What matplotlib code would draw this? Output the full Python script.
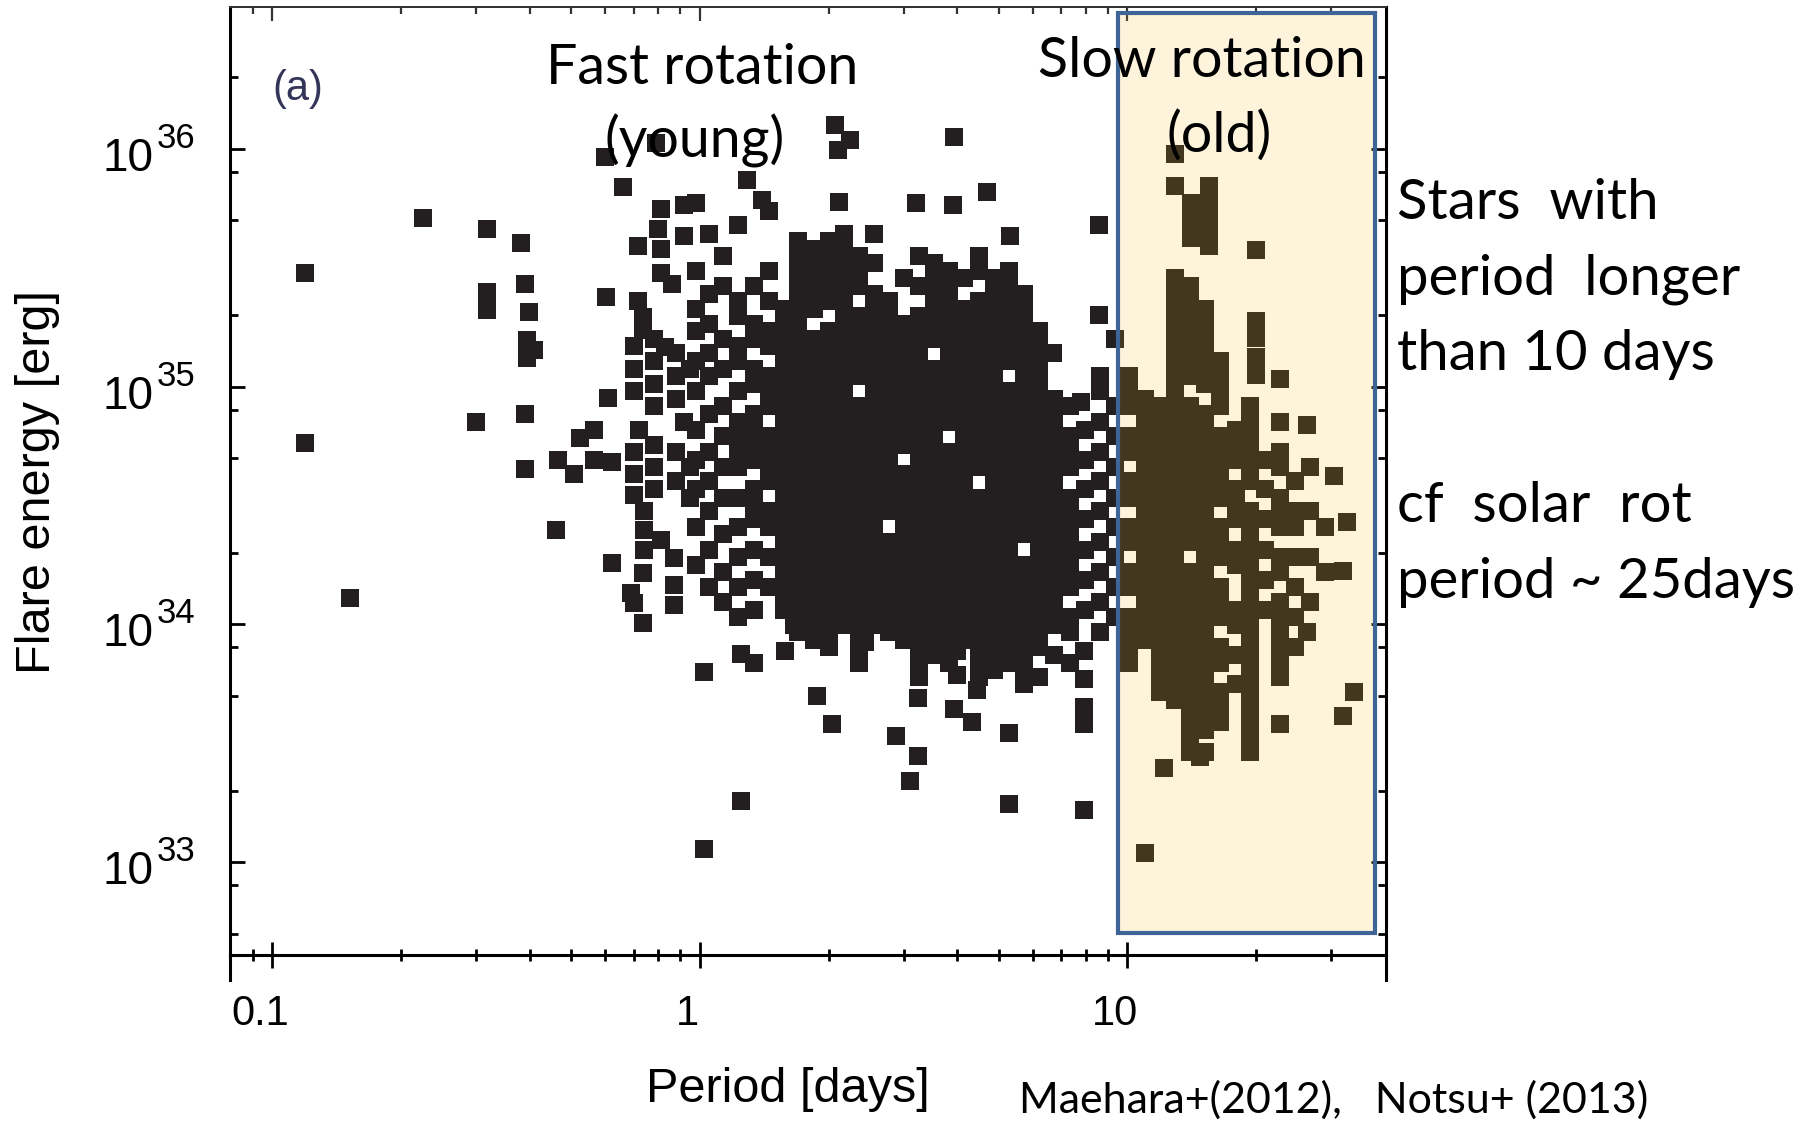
import numpy as np
import matplotlib
matplotlib.use("Agg")
import matplotlib.pyplot as plt
import matplotlib.transforms as mtransforms
from matplotlib.patches import Rectangle
from matplotlib.lines import Line2D
from matplotlib.ticker import NullFormatter

plt.rcParams['font.family'] = ['Liberation Sans', 'DejaVu Sans']

# ---------------- data: (period [days], flare energy [erg]) ----------------
stars_short = [
    (0.119, 3.0e35), (0.119, 5.8e34), (0.152, 1.29e34), (0.225, 5.1e35),
    (0.318, 4.6e35), (0.381, 4.0e35), (0.318, 2.5e35), (0.318, 2.1e35),
    (0.389, 2.7e35), (0.398, 2.06e35), (0.394, 1.57e35), (0.41, 1.43e35),
    (0.394, 1.32e35), (0.603, 2.38e35), (0.66, 6.9e35), (0.60, 9.2e35),
    (0.79, 1.06e36), (0.81, 5.6e35), (0.92, 5.8e35), (0.80, 4.6e35),
    (0.92, 4.3e35), (0.716, 3.9e35), (0.81, 3.8e35), (0.81, 3.0e35),
    (0.86, 2.7e35), (0.716, 2.3e35), (0.736, 1.96e35), (0.736, 1.73e35),
    (0.83, 1.47e35), (0.61, 9.0e34), (0.39, 7.7e34), (0.30, 7.1e34),
    (0.39, 4.5e34), (0.465, 4.9e34), (0.507, 4.3e34), (0.565, 6.6e34),
    (0.524, 6.1e34), (0.565, 4.9e34), (0.623, 4.8e34), (0.46, 2.5e34),
    (0.623, 1.82e34), (0.74, 3.0e34), (0.74, 2.5e34), (0.74, 2.06e34),
    (0.81, 2.26e34), (0.87, 1.9e34), (0.736, 1.64e34), (0.69, 1.36e34),
    (0.70, 1.23e34), (0.736, 1.01e34), (0.87, 1.47e34), (0.87, 1.21e34),
    (0.70, 1.48e35), (0.70, 1.19e35), (0.70, 9.6e34), (0.78, 1.59e35),
    (0.78, 1.28e35), (0.78, 1.03e35), (0.78, 8.3e34), (0.88, 1.38e35),
    (0.88, 1.11e35), (0.88, 8.9e34), (0.95, 1.19e35), (0.70, 5.3e34),
    (0.70, 4.3e34), (0.70, 3.5e34), (0.78, 5.7e34), (0.78, 4.6e34),
    (0.78, 3.7e34), (0.88, 5.3e34), (0.88, 4.0e34), (0.95, 4.6e34),
    (0.95, 3.4e34), (0.92, 7.1e34), (0.72, 6.6e34),
    (0.98, 5.9e35), (0.98, 3.07e35), (0.98, 2.13e35), (0.98, 1.71e35),
    (0.98, 1.28e35), (0.98, 9.6e34), (0.98, 6.6e34), (0.98, 4.9e34),
    (0.98, 3.7e34), (0.98, 2.57e34), (0.98, 1.78e34),
]

stars_mid = [
    (1.02, 6.3e33), (1.02, 1.14e33), (1.25, 7.5e33), (1.34, 6.9e33),
    (1.25, 1.8e33), (1.58, 7.7e33), (1.66, 9.9e33), (1.88, 5.0e33),
    (2.04, 3.8e33), (2.43, 8.4e33), (2.88, 3.4e33), (3.1, 2.2e33),
    (3.23, 4.9e33), (3.23, 2.8e33), (3.92, 4.4e33), (4.34, 3.9e33),
    (4.44, 5.3e33), (4.0, 7.7e33), (4.0, 6.1e33), (5.29, 3.5e33),
    (5.29, 1.76e33), (7.9, 7.7e33), (7.9, 5.9e33), (7.9, 4.5e33),
    (7.9, 3.8e33), (7.9, 1.65e33),
    (1.29, 7.4e35), (1.40, 6.1e35), (1.45, 5.5e35), (2.07, 1.26e36),
    (2.24, 1.09e36), (2.1, 9.9e35), (2.11, 6.0e35), (3.2, 5.9e35),
    (3.93, 1.12e36), (3.9, 5.8e35), (4.7, 6.6e35), (5.3, 4.3e35),
    (8.6, 4.8e35), (8.6, 2.0e35), (6.7, 1.39e35), (7.8, 8.6e34),
    (1.05, 4.4e35), (1.05, 2.46e35), (1.05, 1.84e35), (1.05, 1.38e35),
    (1.05, 1.11e35), (1.05, 7.7e34), (1.05, 5.3e34), (1.05, 4.0e34),
    (1.05, 3.0e34), (1.05, 2.06e34), (1.05, 1.44e34),
    (1.13, 3.55e35), (1.13, 2.65e35), (1.13, 1.59e35), (1.13, 1.19e35),
    (1.13, 8.3e34), (1.13, 6.2e34), (1.13, 4.6e34), (1.13, 3.4e34),
    (1.13, 2.39e34), (1.13, 1.66e34), (1.13, 1.24e34),
    (1.23, 4.8e35), (1.23, 2.29e35), (1.23, 1.98e35), (1.23, 1.48e35),
    (1.23, 1.28e35), (1.23, 9.6e34), (1.23, 7.1e34), (1.23, 6.2e34),
    (1.23, 5.3e34), (1.23, 4.6e34), (1.23, 3.4e34), (1.23, 2.57e34),
    (1.23, 1.92e34), (1.23, 1.44e34), (1.23, 1.07e34),
    (1.34, 2.65e35), (1.34, 1.84e35), (1.34, 1.59e35), (1.34, 1.19e35),
    (1.34, 1.03e35), (1.34, 7.7e34), (1.34, 6.6e34), (1.34, 5.7e34),
    (1.34, 4.9e34), (1.34, 3.7e34), (1.34, 3.2e34), (1.34, 2.77e34),
    (1.34, 2.06e34), (1.34, 1.54e34), (1.34, 1.15e34),
    (1.45, 3.07e35), (1.45, 2.29e35), (1.45, 1.71e35), (1.45, 1.48e35),
    (1.45, 1.11e35), (1.45, 9.6e34), (1.45, 8.3e34), (1.45, 6.2e34),
    (1.45, 5.3e34), (1.45, 4.6e34), (1.45, 4.0e34), (1.45, 3.0e34),
    (1.45, 2.57e34), (1.45, 1.92e34), (1.45, 1.44e34),
    (1.57, 2.13e35), (1.57, 1.84e35), (1.57, 1.59e35), (1.57, 1.38e35),
    (1.57, 1.19e35), (1.57, 1.03e35), (1.57, 8.9e34), (1.57, 7.7e34),
    (1.57, 6.6e34), (1.57, 5.7e34), (1.57, 4.9e34), (1.57, 4.3e34),
    (1.57, 3.7e34), (1.57, 3.2e34), (1.57, 2.77e34), (1.57, 2.39e34),
    (1.57, 2.06e34), (1.57, 1.78e34), (1.57, 1.54e34), (1.57, 1.33e34),
    (1.57, 1.15e34),
    (1.70, 4.1e35), (1.70, 3.55e35), (1.70, 3.07e35), (1.70, 2.65e35),
    (1.70, 2.29e35), (1.70, 1.98e35), (1.70, 1.71e35), (1.70, 1.48e35),
    (1.70, 1.28e35), (1.70, 1.11e35), (1.70, 9.6e34), (1.70, 8.3e34),
    (1.70, 7.1e34), (1.70, 6.2e34), (1.70, 5.3e34), (1.70, 4.6e34),
    (1.70, 4.0e34), (1.70, 3.4e34), (1.70, 3.0e34), (1.70, 2.57e34),
    (1.70, 2.22e34), (1.70, 1.92e34), (1.70, 1.66e34), (1.70, 1.44e34),
    (1.70, 1.24e34), (1.70, 1.07e34), (1.70, 9.3e33),
    (1.85, 3.8e35), (1.85, 3.3e35), (1.85, 2.85e35), (1.85, 2.46e35),
    (1.85, 2.13e35), (1.85, 1.59e35), (1.85, 1.38e35),
    (1.85, 1.19e35), (1.85, 1.03e35), (1.85, 8.9e34), (1.85, 7.7e34),
    (1.85, 6.6e34), (1.85, 5.7e34), (1.85, 4.9e34), (1.85, 4.3e34),
    (1.85, 3.7e34), (1.85, 3.2e34), (1.85, 2.77e34), (1.85, 2.39e34),
    (1.85, 2.06e34), (1.85, 1.78e34), (1.85, 1.54e34), (1.85, 1.33e34),
    (1.85, 1.15e34), (1.85, 9.9e33), (1.85, 8.6e33),
    (2.00, 4.1e35), (2.00, 3.55e35), (2.00, 3.07e35), (2.00, 2.65e35),
    (2.00, 2.29e35), (2.00, 1.71e35), (2.00, 1.48e35),
    (2.00, 1.28e35), (2.00, 1.11e35), (2.00, 9.6e34), (2.00, 8.3e34),
    (2.00, 7.1e34), (2.00, 6.2e34), (2.00, 5.3e34), (2.00, 4.6e34),
    (2.00, 4.0e34), (2.00, 3.4e34), (2.00, 3.0e34), (2.00, 2.57e34),
    (2.00, 2.22e34), (2.00, 1.92e34), (2.00, 1.66e34), (2.00, 1.44e34),
    (2.00, 1.24e34), (2.00, 1.07e34), (2.00, 9.3e33), (2.00, 8.0e33),
    (2.17, 4.4e35), (2.17, 3.8e35), (2.17, 3.3e35), (2.17, 2.85e35),
    (2.17, 2.46e35), (2.17, 2.13e35), (2.17, 1.84e35), (2.17, 1.59e35),
    (2.17, 1.38e35), (2.17, 1.19e35), (2.17, 1.03e35), (2.17, 8.9e34),
    (2.17, 7.7e34), (2.17, 6.6e34), (2.17, 5.7e34), (2.17, 4.9e34),
    (2.17, 4.3e34), (2.17, 3.7e34), (2.17, 3.2e34), (2.17, 2.77e34),
    (2.17, 2.39e34), (2.17, 2.06e34), (2.17, 1.78e34), (2.17, 1.54e34),
    (2.17, 1.33e34), (2.17, 1.15e34), (2.17, 9.9e33),
    (2.36, 3.55e35), (2.36, 3.07e35), (2.36, 2.65e35), (2.36, 1.98e35),
    (2.36, 1.71e35), (2.36, 1.48e35), (2.36, 1.28e35), (2.36, 1.11e35),
    (2.36, 8.3e34), (2.36, 7.1e34), (2.36, 6.2e34),
    (2.36, 5.3e34), (2.36, 4.6e34), (2.36, 4.0e34), (2.36, 3.4e34),
    (2.36, 3.0e34), (2.36, 2.57e34), (2.36, 2.22e34), (2.36, 1.92e34),
    (2.36, 1.66e34), (2.36, 1.44e34), (2.36, 1.24e34), (2.36, 1.07e34),
    (2.36, 9.3e33), (2.36, 8.0e33), (2.36, 6.9e33),
    (2.55, 4.4e35), (2.55, 3.3e35), (2.55, 2.46e35), (2.55, 2.13e35),
    (2.55, 1.84e35), (2.55, 1.59e35), (2.55, 1.38e35), (2.55, 1.19e35),
    (2.55, 1.03e35), (2.55, 8.9e34), (2.55, 7.7e34), (2.55, 6.6e34),
    (2.55, 5.7e34), (2.55, 4.9e34), (2.55, 4.3e34), (2.55, 3.7e34),
    (2.55, 3.2e34), (2.55, 2.77e34), (2.55, 2.39e34), (2.55, 2.06e34),
    (2.55, 1.78e34), (2.55, 1.54e34), (2.55, 1.33e34), (2.55, 1.15e34),
    (2.55, 9.9e33),
    (2.77, 2.29e35), (2.77, 1.98e35), (2.77, 1.71e35), (2.77, 1.48e35),
    (2.77, 1.28e35), (2.77, 1.11e35), (2.77, 9.6e34), (2.77, 8.3e34),
    (2.77, 7.1e34), (2.77, 6.2e34), (2.77, 5.3e34), (2.77, 4.6e34),
    (2.77, 4.0e34), (2.77, 3.4e34), (2.77, 3.0e34),
    (2.77, 2.22e34), (2.77, 1.92e34), (2.77, 1.66e34), (2.77, 1.44e34),
    (2.77, 1.24e34), (2.77, 1.07e34), (2.77, 9.3e33),
    (3.00, 2.85e35), (3.00, 1.84e35), (3.00, 1.59e35), (3.00, 1.38e35),
    (3.00, 1.19e35), (3.00, 1.03e35), (3.00, 8.9e34), (3.00, 7.7e34),
    (3.00, 6.6e34), (3.00, 5.7e34), (3.00, 4.3e34),
    (3.00, 3.7e34), (3.00, 3.2e34), (3.00, 2.77e34), (3.00, 2.39e34),
    (3.00, 2.06e34), (3.00, 1.78e34), (3.00, 1.54e34), (3.00, 1.33e34),
    (3.00, 1.15e34), (3.00, 9.9e33), (3.00, 8.6e33),
    (3.26, 3.55e35), (3.26, 2.65e35), (3.26, 1.98e35), (3.26, 1.71e35),
    (3.26, 1.48e35), (3.26, 1.28e35), (3.26, 1.11e35), (3.26, 9.6e34),
    (3.26, 8.3e34), (3.26, 7.1e34), (3.26, 6.2e34), (3.26, 5.3e34),
    (3.26, 4.6e34), (3.26, 4.0e34), (3.26, 3.4e34), (3.26, 3.0e34),
    (3.26, 2.57e34), (3.26, 2.22e34), (3.26, 1.92e34), (3.26, 1.66e34),
    (3.26, 1.44e34), (3.26, 1.24e34), (3.26, 1.07e34), (3.26, 9.3e33),
    (3.26, 8.0e33), (3.26, 6.9e33), (3.26, 6.0e33),
    (3.53, 3.3e35), (3.53, 2.85e35), (3.53, 2.46e35), (3.53, 2.13e35),
    (3.53, 1.84e35), (3.53, 1.59e35), (3.53, 1.19e35),
    (3.53, 1.03e35), (3.53, 8.9e34), (3.53, 7.7e34), (3.53, 6.6e34),
    (3.53, 5.7e34), (3.53, 4.9e34), (3.53, 4.3e34), (3.53, 3.7e34),
    (3.53, 3.2e34), (3.53, 2.77e34), (3.53, 2.39e34), (3.53, 2.06e34),
    (3.53, 1.78e34), (3.53, 1.54e34), (3.53, 1.33e34), (3.53, 1.15e34),
    (3.53, 9.9e33), (3.53, 8.6e33), (3.53, 7.4e33),
    (3.83, 3.07e35), (3.83, 2.65e35), (3.83, 2.29e35), (3.83, 1.98e35),
    (3.83, 1.71e35), (3.83, 1.48e35), (3.83, 1.28e35), (3.83, 1.11e35),
    (3.83, 9.6e34), (3.83, 8.3e34), (3.83, 7.1e34),
    (3.83, 5.3e34), (3.83, 4.6e34), (3.83, 4.0e34), (3.83, 3.4e34),
    (3.83, 3.0e34), (3.83, 2.57e34), (3.83, 2.22e34), (3.83, 1.92e34),
    (3.83, 1.66e34), (3.83, 1.44e34), (3.83, 1.24e34), (3.83, 1.07e34),
    (3.83, 9.3e33), (3.83, 8.0e33), (3.83, 6.9e33),
    (4.15, 2.85e35), (4.15, 2.13e35), (4.15, 1.84e35), (4.15, 1.59e35),
    (4.15, 1.38e35), (4.15, 1.19e35), (4.15, 1.03e35), (4.15, 8.9e34),
    (4.15, 7.7e34), (4.15, 6.6e34), (4.15, 5.7e34), (4.15, 4.9e34),
    (4.15, 4.3e34), (4.15, 3.7e34), (4.15, 3.2e34), (4.15, 2.77e34),
    (4.15, 2.39e34), (4.15, 2.06e34), (4.15, 1.78e34), (4.15, 1.54e34),
    (4.15, 1.33e34), (4.15, 1.15e34), (4.15, 9.9e33), (4.15, 8.6e33),
    (4.50, 3.55e35), (4.50, 3.07e35), (4.50, 2.29e35), (4.50, 1.98e35),
    (4.50, 1.71e35), (4.50, 1.48e35), (4.50, 1.28e35), (4.50, 1.11e35),
    (4.50, 9.6e34), (4.50, 8.3e34), (4.50, 7.1e34), (4.50, 6.2e34),
    (4.50, 5.3e34), (4.50, 4.6e34), (4.50, 3.4e34),
    (4.50, 3.0e34), (4.50, 2.57e34), (4.50, 2.22e34), (4.50, 1.92e34),
    (4.50, 1.66e34), (4.50, 1.44e34), (4.50, 1.24e34), (4.50, 1.07e34),
    (4.50, 9.3e33), (4.50, 8.0e33), (4.50, 6.9e33), (4.50, 6.0e33),
    (4.88, 2.85e35), (4.88, 2.46e35), (4.88, 2.13e35), (4.88, 1.84e35),
    (4.88, 1.59e35), (4.88, 1.38e35), (4.88, 1.19e35), (4.88, 1.03e35),
    (4.88, 8.9e34), (4.88, 7.7e34), (4.88, 6.6e34), (4.88, 5.7e34),
    (4.88, 4.9e34), (4.88, 4.3e34), (4.88, 3.7e34), (4.88, 3.2e34),
    (4.88, 2.77e34), (4.88, 2.39e34), (4.88, 2.06e34), (4.88, 1.78e34),
    (4.88, 1.54e34), (4.88, 1.33e34), (4.88, 1.15e34), (4.88, 9.9e33),
    (4.88, 8.6e33), (4.88, 7.4e33), (4.88, 6.4e33),
    (5.29, 3.07e35), (5.29, 2.65e35), (5.29, 2.29e35), (5.29, 1.98e35),
    (5.29, 1.71e35), (5.29, 1.48e35), (5.29, 1.28e35),
    (5.29, 9.6e34), (5.29, 8.3e34), (5.29, 7.1e34), (5.29, 6.2e34),
    (5.29, 5.3e34), (5.29, 4.6e34), (5.29, 4.0e34), (5.29, 3.4e34),
    (5.29, 3.0e34), (5.29, 2.57e34), (5.29, 2.22e34), (5.29, 1.92e34),
    (5.29, 1.66e34), (5.29, 1.44e34), (5.29, 1.24e34), (5.29, 1.07e34),
    (5.29, 9.3e33), (5.29, 8.0e33), (5.29, 6.9e33),
    (5.74, 2.46e35), (5.74, 2.13e35), (5.74, 1.84e35), (5.74, 1.59e35),
    (5.74, 1.38e35), (5.74, 1.19e35), (5.74, 1.03e35), (5.74, 8.9e34),
    (5.74, 7.7e34), (5.74, 6.6e34), (5.74, 5.7e34), (5.74, 4.9e34),
    (5.74, 4.3e34), (5.74, 3.7e34), (5.74, 3.2e34), (5.74, 2.77e34),
    (5.74, 2.39e34), (5.74, 1.78e34), (5.74, 1.54e34),
    (5.74, 1.33e34), (5.74, 1.15e34), (5.74, 9.9e33), (5.74, 8.6e33),
    (5.74, 7.4e33), (5.74, 6.4e33), (5.74, 5.6e33),
    (6.22, 1.71e35), (6.22, 1.48e35), (6.22, 1.28e35), (6.22, 1.11e35),
    (6.22, 9.6e34), (6.22, 8.3e34), (6.22, 7.1e34), (6.22, 6.2e34),
    (6.22, 5.3e34), (6.22, 4.6e34), (6.22, 4.0e34), (6.22, 3.4e34),
    (6.22, 3.0e34), (6.22, 2.57e34), (6.22, 2.22e34), (6.22, 1.92e34),
    (6.22, 1.66e34), (6.22, 1.44e34), (6.22, 1.24e34), (6.22, 1.07e34),
    (6.22, 9.3e33), (6.22, 8.0e33), (6.22, 6.0e33),
    (6.75, 8.9e34), (6.75, 7.7e34), (6.75, 6.6e34), (6.75, 5.7e34),
    (6.75, 4.9e34), (6.75, 4.3e34), (6.75, 3.7e34), (6.75, 3.2e34),
    (6.75, 2.77e34), (6.75, 2.39e34), (6.75, 2.06e34), (6.75, 1.78e34),
    (6.75, 1.54e34), (6.75, 1.33e34), (6.75, 1.15e34), (6.75, 9.9e33),
    (6.75, 7.4e33),
    (7.32, 8.3e34), (7.32, 6.2e34), (7.32, 5.3e34), (7.32, 4.6e34),
    (7.32, 3.4e34), (7.32, 3.0e34), (7.32, 2.57e34), (7.32, 2.22e34),
    (7.32, 1.92e34), (7.32, 1.66e34), (7.32, 1.44e34), (7.32, 1.07e34),
    (7.32, 9.3e33), (7.32, 6.9e33),
    (7.94, 6.6e34), (7.94, 4.9e34), (7.94, 3.7e34), (7.94, 2.77e34),
    (7.94, 2.06e34), (7.94, 1.54e34), (7.94, 1.15e34),
    (8.61, 1.11e35), (8.61, 9.6e34), (8.61, 7.1e34), (8.61, 5.3e34),
    (8.61, 4.0e34), (8.61, 3.0e34), (8.61, 2.22e34), (8.61, 1.66e34),
    (8.61, 1.24e34), (8.61, 9.3e33),
    (9.33, 1.59e35), (9.33, 8.3e34), (9.33, 6.2e34), (9.33, 4.6e34),
    (9.33, 3.4e34), (9.33, 2.57e34), (9.33, 1.92e34), (9.33, 1.44e34),
    (9.33, 1.07e34),
]

stars_long = [
    (11.0, 1.09e33), (12.2, 2.5e33), (14.8, 2.77e33), (16.1, 4.7e33),
    (22.7, 3.8e33), (31.9, 4.1e33), (33.8, 5.2e33), (26.3, 9.3e33),
    (31.9, 1.68e34), (32.6, 2.7e34), (30.4, 4.2e34), (26.3, 6.9e34),
    (22.7, 1.08e35), (20.0, 1.12e35), (20.0, 1.89e35), (20.0, 1.6e35),
    (20.0, 1.33e35), (20.0, 3.76e35), (12.9, 9.5e35), (12.9, 7.0e35),
    (14.1, 5.9e35), (14.1, 5.0e35), (14.1, 4.2e35), (15.5, 7.0e35),
    (15.5, 6.0e35), (15.5, 5.1e35), (15.5, 4.5e35), (15.5, 3.9e35),
    (10.1, 1.11e35), (10.1, 9.6e34), (10.1, 8.3e34), (10.1, 6.2e34),
    (10.1, 5.3e34), (10.1, 4.0e34), (10.1, 3.4e34), (10.1, 2.57e34),
    (10.1, 2.22e34), (10.1, 1.66e34), (10.1, 1.44e34), (10.1, 1.07e34),
    (10.1, 9.3e33), (10.1, 8.0e33), (10.1, 6.9e33),
    (11.0, 8.9e34), (11.0, 7.7e34), (11.0, 6.6e34), (11.0, 5.7e34),
    (11.0, 4.9e34), (11.0, 4.3e34), (11.0, 3.7e34), (11.0, 3.2e34),
    (11.0, 2.77e34), (11.0, 2.39e34), (11.0, 2.06e34), (11.0, 1.78e34),
    (11.0, 1.54e34), (11.0, 1.33e34), (11.0, 1.15e34), (11.0, 9.9e33),
    (11.0, 8.6e33),
    (11.9, 8.3e34), (11.9, 7.1e34), (11.9, 6.2e34), (11.9, 5.3e34),
    (11.9, 4.6e34), (11.9, 4.0e34), (11.9, 3.4e34), (11.9, 3.0e34),
    (11.9, 2.57e34), (11.9, 2.22e34), (11.9, 1.92e34), (11.9, 1.66e34),
    (11.9, 1.44e34), (11.9, 1.24e34), (11.9, 1.07e34), (11.9, 9.3e33),
    (11.9, 8.0e33), (11.9, 6.9e33), (11.9, 6.0e33), (11.9, 5.2e33),
    (12.9, 2.85e35), (12.9, 2.46e35), (12.9, 2.13e35), (12.9, 1.84e35),
    (12.9, 1.59e35), (12.9, 1.38e35), (12.9, 1.19e35), (12.9, 1.03e35),
    (12.9, 8.9e34), (12.9, 7.7e34), (12.9, 6.6e34), (12.9, 5.7e34),
    (12.9, 4.9e34), (12.9, 4.3e34), (12.9, 3.7e34), (12.9, 3.2e34),
    (12.9, 2.77e34), (12.9, 2.39e34), (12.9, 2.06e34), (12.9, 1.78e34),
    (12.9, 1.54e34), (12.9, 1.33e34), (12.9, 1.15e34), (12.9, 9.9e33),
    (12.9, 8.6e33), (12.9, 7.4e33), (12.9, 6.4e33), (12.9, 5.6e33),
    (12.9, 4.8e33),
    (14.0, 2.65e35), (14.0, 2.29e35), (14.0, 1.98e35), (14.0, 1.71e35),
    (14.0, 1.48e35), (14.0, 1.28e35), (14.0, 1.11e35),
    (14.0, 8.3e34), (14.0, 7.1e34), (14.0, 6.2e34), (14.0, 5.3e34),
    (14.0, 4.6e34), (14.0, 4.0e34), (14.0, 3.4e34), (14.0, 3.0e34),
    (14.0, 2.57e34), (14.0, 2.22e34), (14.0, 1.66e34),
    (14.0, 1.44e34), (14.0, 1.24e34), (14.0, 1.07e34), (14.0, 9.3e33),
    (14.0, 8.0e33), (14.0, 6.9e33), (14.0, 6.0e33), (14.0, 5.2e33),
    (14.0, 4.5e33), (14.0, 3.9e33), (14.0, 3.3e33), (14.0, 2.9e33),
    (15.2, 2.13e35), (15.2, 1.84e35), (15.2, 1.59e35), (15.2, 1.38e35),
    (15.2, 1.19e35), (15.2, 1.03e35), (15.2, 7.7e34),
    (15.2, 6.6e34), (15.2, 5.7e34), (15.2, 4.9e34), (15.2, 4.3e34),
    (15.2, 3.7e34), (15.2, 3.2e34), (15.2, 2.77e34), (15.2, 2.39e34),
    (15.2, 2.06e34), (15.2, 1.78e34), (15.2, 1.54e34), (15.2, 1.33e34),
    (15.2, 1.15e34), (15.2, 9.9e33), (15.2, 8.6e33), (15.2, 7.4e33),
    (15.2, 6.4e33), (15.2, 5.6e33), (15.2, 4.8e33), (15.2, 4.2e33),
    (15.2, 3.6e33), (15.2, 2.9e33),
    (16.5, 1.28e35), (16.5, 1.11e35), (16.5, 9.6e34), (16.5, 8.3e34),
    (16.5, 6.2e34), (16.5, 5.3e34), (16.5, 4.6e34), (16.5, 4.0e34),
    (16.5, 3.4e34), (16.5, 2.57e34), (16.5, 2.22e34), (16.5, 1.92e34),
    (16.5, 1.44e34), (16.5, 1.24e34), (16.5, 1.07e34), (16.5, 8.0e33),
    (16.5, 6.9e33), (16.5, 5.2e33), (16.5, 4.5e33), (16.5, 3.9e33),
    (17.9, 6.6e34), (17.9, 5.7e34), (17.9, 4.9e34), (17.9, 3.7e34),
    (17.9, 3.2e34), (17.9, 2.77e34), (17.9, 2.06e34), (17.9, 1.78e34),
    (17.9, 1.15e34), (17.9, 9.9e33), (17.9, 7.4e33),
    (17.9, 5.6e33),
    (19.4, 8.3e34), (19.4, 7.1e34), (19.4, 6.2e34), (19.4, 5.3e34),
    (19.4, 4.6e34), (19.4, 4.0e34), (19.4, 3.0e34), (19.4, 2.57e34),
    (19.4, 2.22e34), (19.4, 1.92e34), (19.4, 1.66e34), (19.4, 1.44e34),
    (19.4, 1.24e34), (19.4, 1.07e34), (19.4, 9.3e33), (19.4, 8.0e33),
    (19.4, 6.9e33), (19.4, 6.0e33), (19.4, 5.2e33), (19.4, 4.5e33),
    (19.4, 3.9e33), (19.4, 3.3e33), (19.4, 2.9e33),
    (21.0, 4.9e34), (21.0, 3.7e34), (21.0, 2.77e34), (21.0, 2.06e34),
    (21.0, 1.54e34), (21.0, 1.15e34),
    (22.8, 7.1e34), (22.8, 5.3e34), (22.8, 4.6e34), (22.8, 3.4e34),
    (22.8, 3.0e34), (22.8, 2.57e34), (22.8, 1.92e34), (22.8, 1.66e34),
    (22.8, 1.24e34), (22.8, 1.07e34), (22.8, 9.3e33), (22.8, 8.0e33),
    (22.8, 6.9e33), (22.8, 6.0e33),
    (24.7, 4.0e34), (24.7, 3.0e34), (24.7, 2.57e34), (24.7, 1.92e34),
    (24.7, 1.44e34), (24.7, 1.07e34), (24.7, 8.0e33),
    (26.8, 4.6e34), (26.8, 3.0e34), (26.8, 1.92e34), (26.8, 1.24e34),
    (29.0, 2.57e34), (29.0, 1.66e34),
]

x_major = [0.1, 1, 10]
x_minor = [0.09, 0.2, 0.3, 0.4, 0.5, 0.6, 0.7, 0.8, 0.9,
           2, 3, 4, 5, 6, 7, 8, 9, 20, 30]
x_tick_labels = ['0.1', '1', '10']
y_major = [1e33, 1e34, 1e35, 1e36]
y_minor = [5e32, 8e32, 2e33, 5e33, 8e33, 2e34, 5e34, 8e34,
           2e35, 5e35, 8e35, 2e36]
y_exponents = ['33', '34', '35', '36']

# ---------------- figure ----------------
W, H = 1815, 1123
fig = plt.figure(figsize=(W / 100, H / 100), dpi=100)


def fx(px):
    return px / W


def fy(py):
    return 1 - py / H


ax = fig.add_axes([fx(230), fy(955), (1386 - 230) / W, (955 - 7) / H])
ax.set_xscale('log')
ax.set_yscale('log')
ax.set_xlim(0.0796, 40.25)
ax.set_ylim(4.07e32, 3.95e36)

all_stars = stars_short + stars_mid + stars_long
period = np.array([p for p, e in all_stars])
energy = np.array([e for p, e in all_stars])
ax.scatter(period, energy, marker='s', s=150, c='#231f20',
           linewidths=0, zorder=2)

# slow-rotation box (semi-transparent fill over the points)
x0, x1 = 0.7682, 0.9905
y0, y1 = 0.0232, 0.9937
ax.add_patch(Rectangle((x0, y0), x1 - x0, y1 - y0, transform=ax.transAxes,
                       facecolor=(0.976, 0.745, 0.114, 0.155),
                       edgecolor='none', zorder=3, clip_on=False))
ax.add_patch(Rectangle((x0, y0), x1 - x0, y1 - y0, transform=ax.transAxes,
                       facecolor='none', edgecolor='#3f6598', linewidth=3.0,
                       zorder=4, clip_on=False))

# spines & ticks
for name, sp in ax.spines.items():
    sp.set_linewidth(2.2)
    sp.set_color('black')
ax.spines['top'].set_linewidth(1.4)
ax.spines['top'].set_color('#333333')

ax.set_xticks(x_major)
ax.set_xticks(x_minor, minor=True)
ax.set_yticks(y_major)
ax.set_yticks(y_minor, minor=True)
for a in (ax.xaxis, ax.yaxis):
    a.set_major_formatter(NullFormatter())
    a.set_minor_formatter(NullFormatter())

ax.tick_params(axis='x', which='major', direction='inout', length=19,
               width=2.0, bottom=True, top=False, labelbottom=False)
ax.tick_params(axis='x', which='minor', direction='inout', length=9,
               width=2.0, bottom=True, top=False)
ax.tick_params(axis='y', which='major', direction='in', length=11, width=2.0,
               left=True, right=True, labelleft=False)
ax.tick_params(axis='y', which='minor', direction='in', length=6, width=2.0,
               left=True, right=True)

sec = ax.secondary_xaxis('top')
sec.set_xticks(x_major)
sec.set_xticks(x_minor, minor=True)
sec.xaxis.set_major_formatter(NullFormatter())
sec.xaxis.set_minor_formatter(NullFormatter())
sec.tick_params(which='major', direction='in', length=10, width=1.6,
                color='#333333')
sec.tick_params(which='minor', direction='in', length=5, width=1.6,
                color='#333333')
sec.spines['top'].set_linewidth(1.4)
sec.spines['top'].set_color('#333333')

# spine stubs below the x axis
for px in (230, 1386):
    fig.add_artist(Line2D([fx(px), fx(px)], [fy(955), fy(980)],
                          color='black', lw=2.2, transform=fig.transFigure))

# y tick labels 10^n
trans_y = mtransforms.blended_transform_factory(fig.transFigure, ax.transData)
for val, ex in zip(y_major, y_exponents):
    ax.text(fx(154), val, '10', ha='right', va='baseline', fontsize=33,
            transform=trans_y + mtransforms.ScaledTranslation(
                0, -0.22, fig.dpi_scale_trans))
    ax.text(fx(157), val, ex, ha='left', va='baseline', fontsize=25,
            transform=trans_y + mtransforms.ScaledTranslation(
                0, 0.01, fig.dpi_scale_trans))

# x tick labels
trans_x = mtransforms.blended_transform_factory(ax.transData, fig.transFigure) \
    + mtransforms.ScaledTranslation(-0.12, 0, fig.dpi_scale_trans)
for val, lab in zip(x_major, x_tick_labels):
    ax.text(val, fy(1025), lab, ha='center', va='baseline', fontsize=30,
            transform=trans_x)

# axis labels
fig.text(fx(788), fy(1102), 'Period [days]', ha='center', va='baseline',
         fontsize=35)
fig.text(fx(50), fy(482), 'Flare energy [erg]', rotation=90,
         rotation_mode='anchor', ha='center', va='baseline', fontsize=35)

# panel tag
fig.text(fx(298), fy(100), '(a)', ha='center', va='baseline', fontsize=30,
         color='#35355a')

# annotations
ann = ['Lato', 'DejaVu Sans']
fig.text(fx(702), fy(84), 'Fast rotation', ha='center', va='baseline',
         fontsize=40, family=ann, zorder=6)
fig.text(fx(695), fy(158), '(young)', ha='center', va='baseline',
         fontsize=40, family=ann, zorder=6)
fig.text(fx(1202), fy(77), 'Slow rotation', ha='center', va='baseline',
         fontsize=40, family=ann, zorder=6)
fig.text(fx(1219), fy(152), '(old)', ha='center', va='baseline',
         fontsize=40, family=ann, zorder=6)

right_lines = ['Stars  with', 'period  longer', 'than 10 days',
               'cf  solar  rot', 'period ~ 25days']
right_base = [219, 295, 370, 522, 598]
for txt, b in zip(right_lines, right_base):
    fig.text(fx(1397), fy(b), txt, ha='left', va='baseline', fontsize=40.5,
             family=ann)

fig.text(fx(1019), fy(1113), 'Maehara+(2012),   Notsu+ (2013)', ha='left',
         va='baseline', fontsize=31, family=ann)

fig.savefig('out.png', dpi=100)
